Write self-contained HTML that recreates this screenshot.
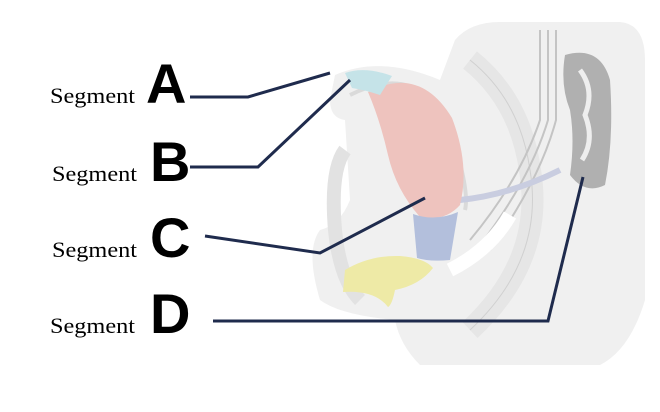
<!DOCTYPE html>
<html><head><meta charset="utf-8"><style>
html,body{margin:0;padding:0;background:#fff;width:660px;height:412px;overflow:hidden}
svg{display:block}
.s{font-family:"Liberation Serif",serif;font-size:22px;fill:#000}
.l{font-family:"Liberation Sans",sans-serif;font-weight:bold;font-size:56px;fill:#000}
</style></head><body>
<svg width="660" height="412" viewBox="0 0 660 412" xmlns="http://www.w3.org/2000/svg">
<path d="M455 40 Q470 22 500 22 L620 22 Q645 24 645 60 L645 300 Q630 350 600 365 L420 365 Q400 345 395 320 Q340 315 320 300 Q305 250 320 230 Q340 225 350 200 L345 120 Q330 118 330 100 L335 75 Q380 55 440 80 Z" fill="#f0f0f0"/>
<path d="M345 150 Q330 170 335 230 Q340 280 360 300" fill="none" stroke="#e2e2e2" stroke-width="14"/>
<path d="M470 60 Q520 100 530 170 Q545 260 470 330" fill="none" stroke="#e6e6e6" stroke-width="22"/>
<path d="M470 60 Q520 100 530 170 Q545 260 470 330" fill="none" stroke="#d0d0d0" stroke-width="1"/>
<path d="M540 30 L540 120 Q520 180 470 240 M548 30 L548 120 Q530 180 480 245 M556 30 L556 120 Q540 180 490 250" fill="none" stroke="#c4c4c4" stroke-width="2"/>
<path d="M350 95 Q420 60 450 130 Q470 190 465 210" fill="none" stroke="#dadada" stroke-width="4"/>
<path d="M565 55 Q600 45 610 80 Q614 140 605 185 Q585 195 570 175 Q575 140 570 110 Q560 85 565 55 Z" fill="#b0b0b0"/>
<path d="M580 70 Q595 90 585 115 Q595 140 582 160" fill="none" stroke="#eee" stroke-width="5"/>
<path d="M460 200 Q510 195 560 170" fill="none" stroke="#c9cde0" stroke-width="6"/>
<path d="M450 270 Q490 250 510 215" fill="none" stroke="#fff" stroke-width="14"/>
<path d="M368 92 Q420 65 452 118 Q470 165 460 205 Q445 222 420 217 Q396 190 388 155 Q380 120 368 92 Z" fill="#eec3be"/>
<path d="M345 73 Q365 66 392 76 L380 95 Q365 90 352 88 Z" fill="#c5e3e8"/>
<path d="M413 214 Q435 222 458 212 L450 260 Q430 262 417 258 Z" fill="#b3bfdc"/>
<path d="M345 270 Q370 255 400 256 Q425 258 433 268 Q420 285 395 290 Q392 305 388 307 Q375 290 343 292 Z" fill="#eeeaa6"/>
<g fill="none" stroke="#1f2b4d" stroke-width="3">
<polyline points="190,97 248,97 330,73"/>
<polyline points="190,167 258,167 350,80"/>
<polyline points="205,236 320,253 425,198"/>
<polyline points="213,321 548,321 583,177"/>
</g>
<text class="s" x="50" y="103" textLength="85" lengthAdjust="spacingAndGlyphs">Segment</text>
<text class="l" x="146" y="103">A</text>
<text class="s" x="52" y="181" textLength="85" lengthAdjust="spacingAndGlyphs">Segment</text>
<text class="l" x="150" y="181">B</text>
<text class="s" x="52" y="257" textLength="85" lengthAdjust="spacingAndGlyphs">Segment</text>
<text class="l" x="150" y="257">C</text>
<text class="s" x="50" y="333" textLength="85" lengthAdjust="spacingAndGlyphs">Segment</text>
<text class="l" x="150" y="333">D</text>
</svg>
</body></html>
